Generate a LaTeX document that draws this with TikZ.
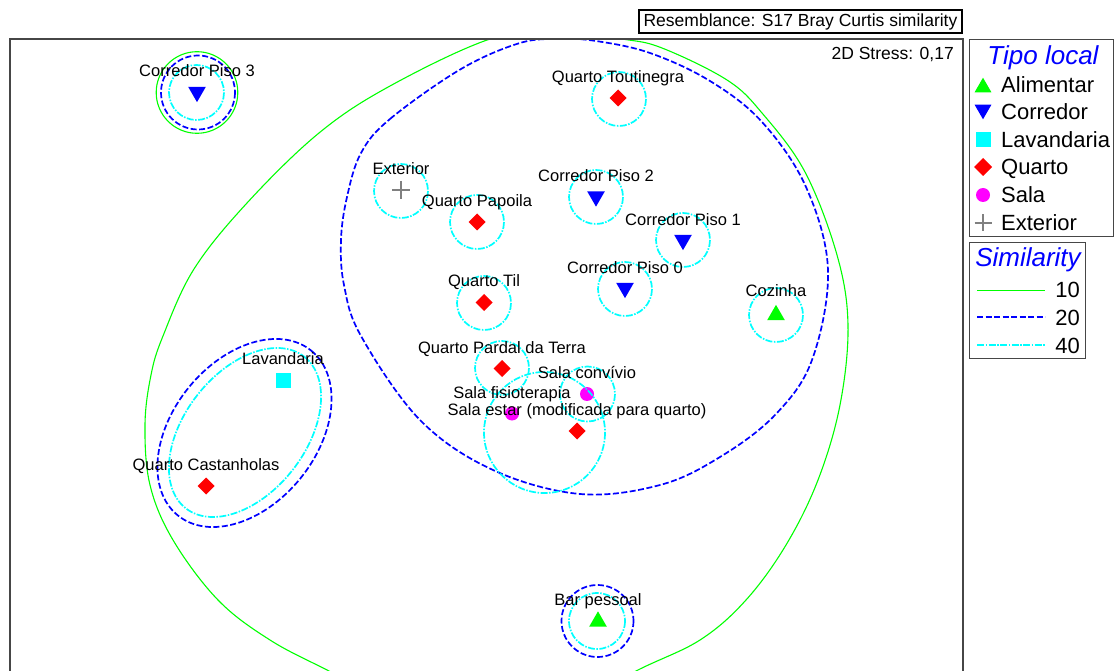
\documentclass[tikz,border=0pt]{standalone}
\usepackage{fontspec}
\setmainfont{Liberation Sans}
\usetikzlibrary{shapes.geometric}
\definecolor{mgreen}{RGB}{0,255,0}
\definecolor{mblue}{RGB}{0,0,255}
\definecolor{mcyan}{RGB}{0,255,255}
\definecolor{mred}{RGB}{255,0,0}
\definecolor{mmag}{RGB}{255,0,255}
\definecolor{mgray}{RGB}{128,128,128}
\definecolor{framec}{RGB}{70,70,70}
\tikzset{
 lvlten/.style={mgreen, line width=1.1pt},
 lvltwenty/.style={mblue, line width=1.7pt, dash pattern=on 6pt off 2.5pt},
 lvlforty/.style={mcyan, line width=1.7pt, dash pattern=on 7pt off 1.5pt on 1.5pt off 1.5pt},
 mk/.style={inner sep=0pt, outer sep=0pt, draw=none},
 tdown/.style={mk, regular polygon, regular polygon sides=3, shape border rotate=180, minimum size=20.5pt, fill=mblue},
 tup/.style={mk, regular polygon, regular polygon sides=3, minimum size=20.5pt, fill=mgreen},
 dia/.style={mk, diamond, minimum size=17pt, fill=mred},
 sqmk/.style={mk, rectangle, minimum size=15pt, fill=mcyan},
 mdot/.style={mk, circle, minimum size=14pt, fill=mmag},
 plusmk/.style={mk, minimum size=18pt},
 plusline/.style={mgray, line width=2.5pt},
 plabel/.style={font=\fontsize{16.5}{18}\selectfont, inner sep=0pt, anchor=base},
 legtxt/.style={font=\fontsize{22}{24}\selectfont, inner sep=0pt, anchor=base west},
 legnum/.style={font=\fontsize{22}{24}\selectfont, inner sep=0pt, anchor=base east},
 legtitle/.style={font=\fontsize{26}{28}\selectfont\itshape, text=mblue, inner sep=0pt, anchor=base},
 boxline/.style={draw=framec, line width=1pt},
}
\begin{document}
\begin{tikzpicture}[x=1pt, y=-1pt]
\useasboundingbox (0,0) rectangle (1117,671);
\fill[white] (0,0) rectangle (1117,671);

% title
\draw[black, line width=1.3pt] (639,10) rectangle (962,33);
\node[font=\fontsize{17.5}{19}\selectfont, inner sep=0pt, anchor=base] (title) at (800.5,27) {Resemblance: S17 Bray Curtis similarity};

\node[font=\fontsize{17.5}{19}\selectfont, inner sep=0pt, anchor=base east] (stress) at (954,60) {2D Stress: 0,17};

\begin{scope}
\clip (10,39) rectangle (963,671);
% similarity 10
\draw[lvlten] plot[smooth cycle, tension=0.6] coordinates {
 (490,39) (556,31) (622,39) (662,48) (727,80) (762,113) (805,172) (837,255) (848,325) (840,405) (818,480) (786,545) (746,600) (700,640) (636,671) (560,712) (480,722) (400,707) (329,671) (270,640) (218,600) (173,540) (150,485) (145,425) (151,375) (163,336) (194,269) (247,203) (319,133) (390,86)};
% similarity 20
\draw[lvltwenty] plot[smooth cycle, tension=0.6] coordinates {
 (361,153) (390,119) (461,69) (520,43) (560,39) (596,41) (650,53) (710,81) (762,122) (806,187) (828,270) (812,360) (775,415) (720,457) (660,485) (580,494) (493,470) (420,420) (361,336) (344,285) (341,240) (347,197)};
\end{scope}

% frame
\draw[framec, line width=1.2pt] (10,680) -- (10,39) -- (963,39) -- (963,680);

% markers
\node[tdown] (cp3) at (197,91.9) {};
\node[dia] (qtou) at (618,98) {};
\node[plusmk] (ext) at (401,190) {};
\draw[plusline] (ext.west) -- (ext.east) (ext.north) -- (ext.south);
\node[tdown] (cp2) at (596,196.4) {};
\node[dia] (qpap) at (477,222) {};
\node[tdown] (cp1) at (683,239.9) {};
\node[dia] (qtil) at (484,302.5) {};
\node[tdown] (cp0) at (625,287.9) {};
\node[tup] (coz) at (776,315.1) {};
\node[dia] (qpar) at (502,368.5) {};
\node[mdot] (sconv) at (587,394) {};
\node[mdot] (sfis) at (512,413.5) {};
\node[dia] (sest) at (577,431) {};
\node[sqmk] (lav) at (283,380) {};
\node[dia] (qcas) at (206,486) {};
\node[tup] (bar) at (598,621.6) {};

% similarity 40 circles
\draw[lvlforty] (196.5,92.5) circle[radius=27.5];
\draw[lvlforty] (619,99) circle[radius=27];
\draw[lvlforty] (401,191) circle[radius=27];
\draw[lvlforty] (596,197) circle[radius=27];
\draw[lvlforty] (477,222) circle[radius=27];
\draw[lvlforty] (683,240) circle[radius=27];
\draw[lvlforty] (484,303) circle[radius=27];
\draw[lvlforty] (625,289) circle[radius=27];
\draw[lvlforty] (776,315) circle[radius=27];
\draw[lvlforty] (502,368) circle[radius=27];
\draw[lvlforty] (587.5,394) circle[radius=27.5];
\draw[lvlforty] (544.5,432.5) circle[radius=60.5];
\draw[lvlforty] (597,621) circle[radius=28];
\draw[lvlforty, rotate around={52:(245,432.5)}] (245,432.5) ellipse[x radius=96.2, y radius=60.6];
% similarity 20 circles
\draw[lvltwenty] (198,92.5) circle[radius=37];
\draw[lvltwenty] (597.5,621) circle[radius=36];
\draw[lvltwenty, rotate around={51:(244.5,433)}] (244.5,433) ellipse[x radius=106, y radius=72];
% similarity 10 circle
\draw[lvlten] (197,92.5) circle[radius=40.8];

% labels
\node[plabel] (lcp3) at (197,77) {Corredor Piso 3};
\node[plabel] (lqtou) at (618,83) {Quarto Toutinegra};
\node[plabel] (lext) at (401,175) {Exterior};
\node[plabel] (lcp2) at (596,182) {Corredor Piso 2};
\node[plabel] (lqpap) at (477,207) {Quarto Papoila};
\node[plabel] (lcp1) at (683,226) {Corredor Piso 1};
\node[plabel] (lqtil) at (484,287) {Quarto Til};
\node[plabel] (lcp0) at (625,274) {Corredor Piso 0};
\node[plabel] (lcoz) at (776,297) {Cozinha};
\node[plabel] (lqpar) at (502,353) {Quarto Pardal da Terra};
\node[plabel] (lsconv) at (587,378) {Sala convívio};
\node[plabel] (lsfis) at (512,398) {Sala fisioterapia};
\node[plabel] (lsest) at (577,415) {Sala estar (modificada para quarto)};
\node[plabel] (llav) at (283,364) {Lavandaria};
\node[plabel] (lqcas) at (206,470) {Quarto Castanholas};
\node[plabel] (lbar) at (598,605) {Bar pessoal};

% legend: Tipo local
\draw[boxline] (969,40) rectangle (1113,237);
\node[legtitle] (lgt) at (1043,65) {Tipo local};
\node[tup, minimum size=19.6pt] (lg1) at (983,87.5) {};
\node[legtxt] (lgt1) at (1001,93) {Alimentar};
\node[tdown, minimum size=19.6pt] (lg2) at (983,109.5) {};
\node[legtxt] (lgt2) at (1001,120) {Corredor};
\node[sqmk] (lg3) at (983,140) {};
\node[legtxt] (lgt3) at (1001,148) {Lavandaria};
\node[dia, minimum size=18pt] (lg4) at (983,167) {};
\node[legtxt] (lgt4) at (1001,175) {Quarto};
\node[mdot] (lg5) at (983,195) {};
\node[legtxt] (lgt5) at (1001,203) {Sala};
\node[plusmk, minimum size=17pt] (lg6) at (983,223) {};
\draw[plusline, line width=2.3pt] (lg6.west) -- (lg6.east) (lg6.north) -- (lg6.south);
\node[legtxt] (lgt6) at (1001,231) {Exterior};

% legend: Similarity
\draw[boxline] (969,243) rectangle (1085,358);
\node[legtitle] (lst) at (1028,267) {Similarity};
\coordinate (sa1) at (977,290.5); \coordinate (sb1) at (1045,290.5);
\coordinate (sa2) at (977,317); \coordinate (sb2) at (1045,317);
\coordinate (sa3) at (977,345); \coordinate (sb3) at (1045,345);
\draw[lvlten, line width=1.4pt] (sa1) -- (sb1);
\draw[lvltwenty, line width=1.4pt] (sa2) -- (sb2);
\draw[lvlforty, line width=1.4pt] (sa3) -- (sb3);
\node[legnum] (ls1) at (1080,298) {10};
\node[legnum] (ls2) at (1080,325) {20};
\node[legnum] (ls3) at (1080,353) {40};
\end{tikzpicture}
\end{document}
